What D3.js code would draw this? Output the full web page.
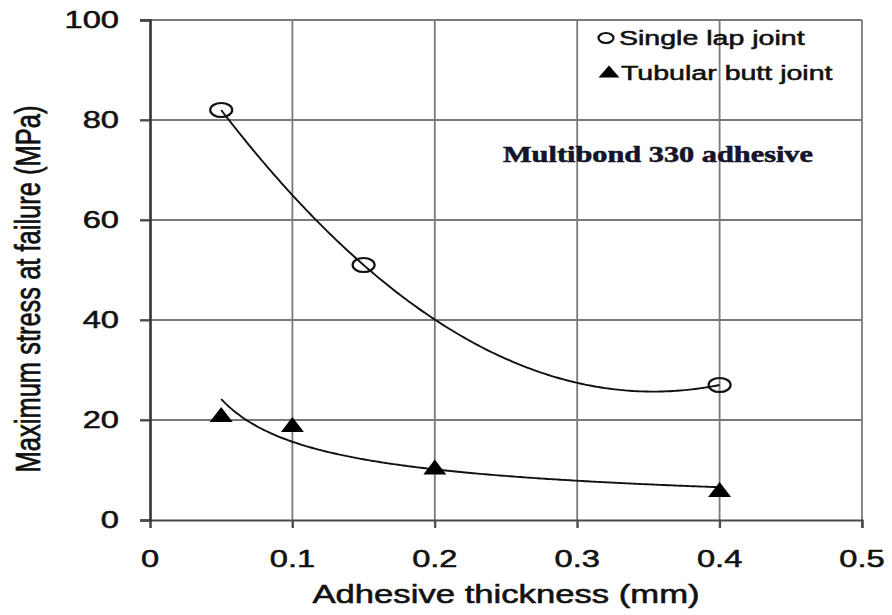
<!DOCTYPE html>
<html>
<head>
<meta charset="utf-8">
<script src="https://cdn.jsdelivr.net/npm/d3@7/dist/d3.min.js"></script>
<style>
  html, body { margin: 0; padding: 0; background: #fff; }
  svg { display: block; }
  text { font-family: "Liberation Sans", Arial, sans-serif; fill: #111; stroke: #111; stroke-width: 0.55px; }
</style>
</head>
<body>
<svg id="chart" width="892" height="615"></svg>
<script>
// Adhesive thickness (mm) and maximum stress at failure (MPa)
const lapThickness = [0.05, 0.15, 0.4];
const lapStress = [82, 51, 27];
const buttThickness = [0.05, 0.1, 0.2, 0.4];
const buttStress = [21, 19, 10.5, 6];

const xTicks = [0, 0.1, 0.2, 0.3, 0.4, 0.5];
const xTickLabels = ["0", "0.1", "0.2", "0.3", "0.4", "0.5"];
const yTicks = [0, 20, 40, 60, 80, 100];
const yTickLabels = ["0", "20", "40", "60", "80", "100"];

const seriesNames = ["Single lap joint", "Tubular butt joint"];
const noteText = "Multibond 330 adhesive";
const xTitle = "Adhesive thickness (mm)";
const yTitle = "Maximum stress at failure (MPa)";

// horizontal stretch applied to glyphs
const SX = 1.36;

const svg = d3.select("#chart");
const plotLeft = 150, plotRight = 862, plotTop = 20, plotBottom = 520;

const x = d3.scaleLinear().domain([0, 0.5]).range([plotLeft, plotRight]);
const y = d3.scaleLinear().domain([0, 100]).range([plotBottom, plotTop]);

function label(g, px, py, str, opts = {}) {
  return g.append("text")
    .attr("transform", `translate(${px},${py}) scale(${SX},1)`)
    .attr("text-anchor", opts.anchor || "middle")
    .attr("dominant-baseline", opts.baseline || "auto")
    .style("font-size", (opts.size || 24) + "px")
    .style("font-family", opts.family || null)
    .style("font-weight", opts.weight || null)
    .style("fill", opts.fill || null)
    .style("stroke", opts.stroke || null)
    .text(str);
}

// grid
const grid = svg.append("g");
grid.selectAll("line.gx").data(xTicks.slice(1)).join("line")
  .attr("x1", d => x(d)).attr("x2", d => x(d))
  .attr("y1", y(100)).attr("y2", y(0) + 8)
  .attr("stroke", "#7a7a7a").attr("stroke-width", 1.8);
grid.selectAll("line.gy").data(yTicks.slice(1)).join("line")
  .attr("x1", x(0) - 10).attr("x2", x(0.5))
  .attr("y1", d => y(d)).attr("y2", d => y(d))
  .attr("stroke", "#7a7a7a").attr("stroke-width", 1.8);

// axes built with d3 axis generators, labels drawn separately
const xAxis = svg.append("g").attr("transform", `translate(0,${plotBottom})`)
  .call(d3.axisBottom(x).tickValues(xTicks).tickSize(8).tickFormat(""));
xAxis.select(".domain").attr("stroke", "#4a4a4a").attr("stroke-width", 2.2);
xAxis.selectAll(".tick line").attr("stroke", "#4a4a4a").attr("stroke-width", 2);

const yAxis = svg.append("g").attr("transform", `translate(${plotLeft},0)`)
  .call(d3.axisLeft(y).tickValues(yTicks).tickSize(10).tickFormat(""));
yAxis.select(".domain").attr("stroke", "#333").attr("stroke-width", 2.6);
yAxis.selectAll(".tick line").attr("stroke", "#4a4a4a").attr("stroke-width", 2);

// tick labels
xTicks.forEach((t, i) => label(svg, x(t), 567, xTickLabels[i], { size: 24 }));
yTicks.forEach((t, i) => label(svg, 119, y(t), yTickLabels[i], { size: 24, anchor: "end", baseline: "central" }));

// axis titles
label(svg, 506, 603, xTitle, { size: 25.5 });
svg.append("text")
  .attr("transform", `translate(27,289) scale(${SX},1) rotate(-90)`)
  .attr("text-anchor", "middle")
  .attr("dominant-baseline", "central")
  .style("font-size", "25.5px")
  .text(yTitle);

// trend lines fitted from the data
function polyFit2(xs, ys) {
  // least squares quadratic via normal equations
  const S = k => d3.sum(xs, v => Math.pow(v, k));
  const T = k => d3.sum(xs, (v, i) => Math.pow(v, k) * ys[i]);
  const A = [[S(0), S(1), S(2)], [S(1), S(2), S(3)], [S(2), S(3), S(4)]];
  const b = [T(0), T(1), T(2)];
  const n = 3;
  for (let i = 0; i < n; i++) {
    let p = i;
    for (let r = i + 1; r < n; r++) if (Math.abs(A[r][i]) > Math.abs(A[p][i])) p = r;
    [A[i], A[p]] = [A[p], A[i]]; [b[i], b[p]] = [b[p], b[i]];
    for (let r = i + 1; r < n; r++) {
      const f = A[r][i] / A[i][i];
      for (let c = i; c < n; c++) A[r][c] -= f * A[i][c];
      b[r] -= f * b[i];
    }
  }
  const c = [0, 0, 0];
  for (let i = n - 1; i >= 0; i--) {
    let s = b[i];
    for (let k = i + 1; k < n; k++) s -= A[i][k] * c[k];
    c[i] = s / A[i][i];
  }
  return v => c[0] + c[1] * v + c[2] * v * v;
}
function powerFit(xs, ys) {
  const lx = xs.map(Math.log), ly = ys.map(Math.log);
  const mx = d3.mean(lx), my = d3.mean(ly);
  const bb = d3.sum(lx, (v, i) => (v - mx) * (ly[i] - my)) / d3.sum(lx, v => (v - mx) ** 2);
  const aa = Math.exp(my - bb * mx);
  return v => aa * Math.pow(v, bb);
}

const lapFit = polyFit2(lapThickness, lapStress);
const buttFit = powerFit(buttThickness, buttStress);
const line = d3.line().x(d => x(d[0])).y(d => y(d[1])).curve(d3.curveLinear);

function trend(fn, xs) {
  const lo = d3.min(xs), hi = d3.max(xs);
  const pts = d3.range(0, 201).map(i => {
    const v = lo + (hi - lo) * i / 200;
    return [v, fn(v)];
  });
  svg.append("path").attr("d", line(pts))
    .attr("fill", "none").attr("stroke", "#111").attr("stroke-width", 1.9);
}
trend(lapFit, lapThickness);
trend(buttFit, buttThickness);

// markers
const triangle = (cx, cy, w, h) =>
  `M${cx},${cy - h / 2 - 1}L${cx + w / 2},${cy + h / 2}L${cx - w / 2},${cy + h / 2}Z`;

svg.selectAll("ellipse.lap").data(lapThickness).join("ellipse")
  .attr("cx", d => x(d)).attr("cy", (d, i) => y(lapStress[i]))
  .attr("rx", 11).attr("ry", 7)
  .attr("fill", "none").attr("stroke", "#111").attr("stroke-width", 2.2);

svg.selectAll("path.butt").data(buttThickness).join("path")
  .attr("d", (d, i) => triangle(x(d), y(buttStress[i]), 23, 14))
  .attr("fill", "#000");

// legend
svg.append("ellipse").attr("cx", 606).attr("cy", 38).attr("rx", 7.5).attr("ry", 5)
  .attr("fill", "none").attr("stroke", "#111").attr("stroke-width", 2.2);
label(svg, 619, 45, seriesNames[0], { size: 21, anchor: "start" });
svg.append("path").attr("d", triangle(609, 72, 21, 11)).attr("fill", "#000");
label(svg, 621, 80, seriesNames[1], { size: 21, anchor: "start" });

// annotation
label(svg, 503, 162, noteText, {
  size: 22.3, anchor: "start", weight: "bold",
  family: "'Liberation Serif', 'Times New Roman', serif", fill: "#14142a", stroke: "#14142a"
});
</script>
</body>
</html>
